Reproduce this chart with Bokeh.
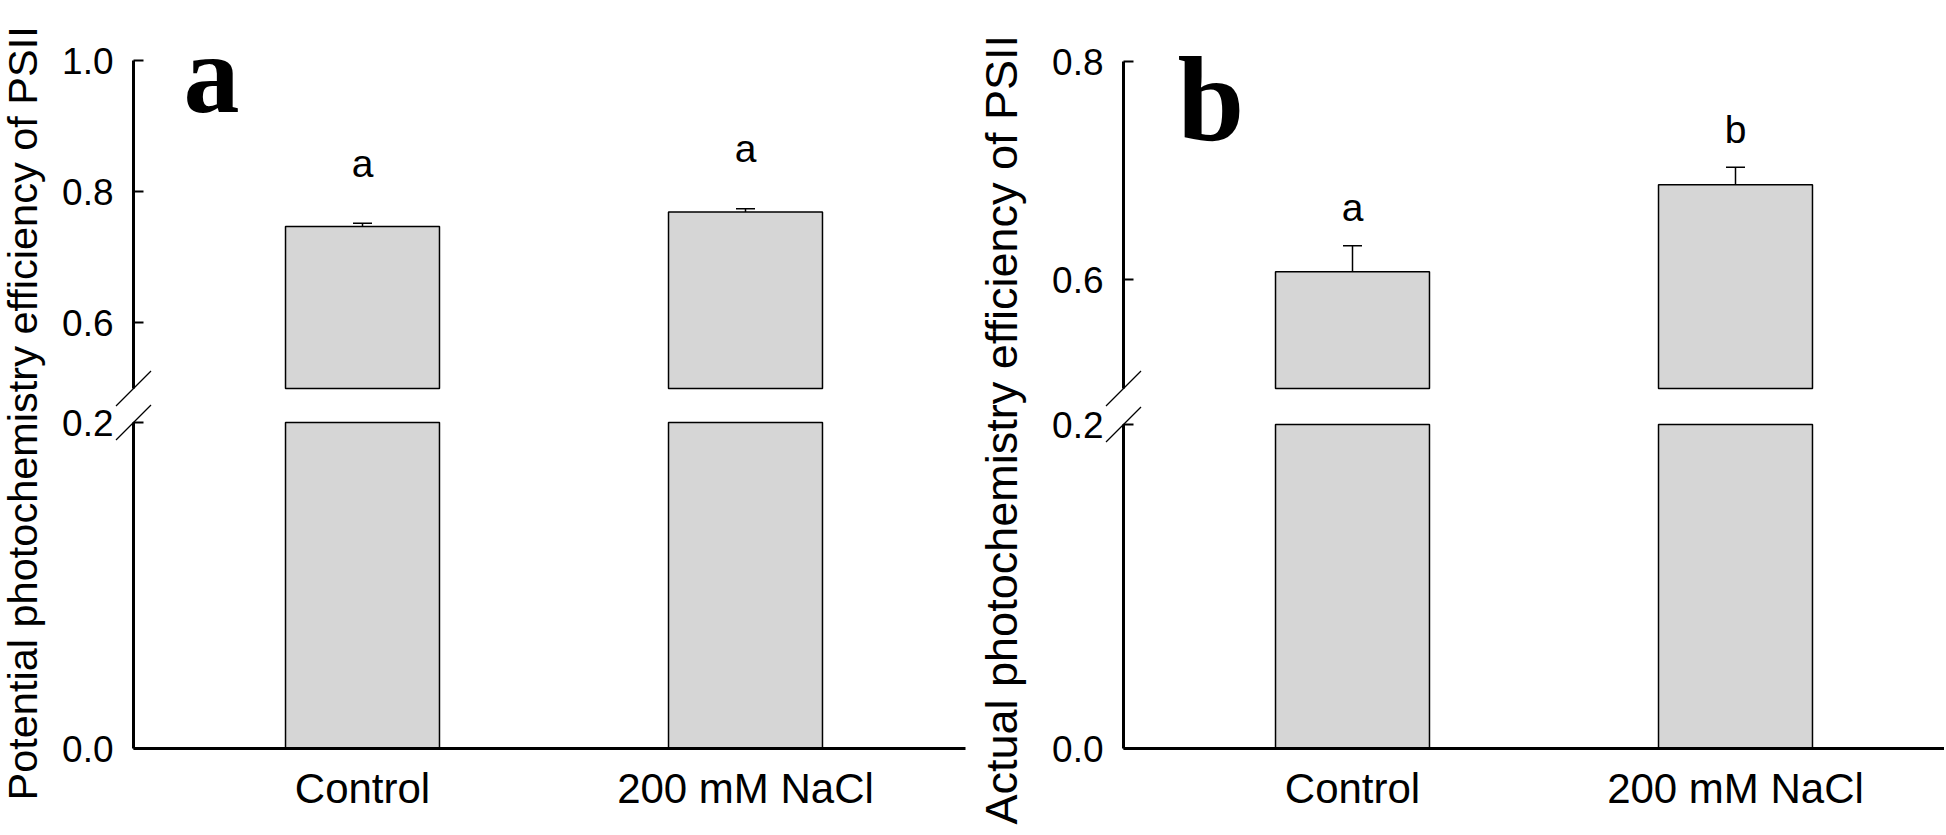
import numpy as np
from bokeh.plotting import figure
from bokeh.models import (ColumnDataSource, Range1d, FixedTicker, NumeralTickFormatter,
                          Whisker, TeeHead, LinearAxis, Grid)
from bokeh.layouts import row
from bokeh.core.properties import value
from bokeh.embed import file_html
from bokeh.resources import INLINE

# ---------------- data ----------------
categories = ["Control", "200 mM NaCl"]
potential_mean = [0.747, 0.769]
potential_se = [0.005, 0.005]
potential_letters = ["a", "a"]
actual_mean = [0.607, 0.687]
actual_se = [0.024, 0.016]
actual_letters = ["a", "b"]
potential_upper_ticks = [0.6, 0.8, 1.0]
actual_upper_ticks = [0.6, 0.8]
lower_ticks = [0.0, 0.2]
ylabel_a = "Potential photochemistry efficiency of PSII"
ylabel_b = "Actual photochemistry efficiency of PSII"

# ---------------- style / layout ----------------
SANS = "Liberation Sans"
SERIF = "Liberation Serif"
BAR_FILL = "#d6d6d6"
BREAK_LOW = 0.2
BREAK_HIGH = 0.5
BAR_W = 0.402
H = 833
TOP = 0
BOTTOM = TOP + H


def x_map(v0, p0, v1, p1):
    k = (v1 - v0) / (p1 - p0)
    return lambda p: v0 + (p - p0) * k


def y_map(v0, p0, v1, p1):
    k = (v1 - v0) / (p0 - p1)
    return lambda p: v0 + (p0 - p) * k


def style_yaxis(ax, ticks):
    ax.ticker = FixedTicker(ticks=ticks)
    ax.formatter = NumeralTickFormatter(format="0.0")
    ax.major_tick_in = 10
    ax.major_tick_out = 0
    ax.major_tick_line_width = 2
    ax.minor_tick_line_color = None
    ax.axis_line_width = 3
    ax.axis_line_color = "black"
    ax.major_tick_line_color = "black"
    ax.major_label_text_font = SANS
    ax.major_label_text_font_size = "37px"
    ax.major_label_text_color = "black"
    ax.major_label_standoff = 20


def panel(means, ses, letters, upper_top, upper_ticks, left, right, axis_px, bar_px,
          upper_px, lower_px, xaxis_end_px, ylabel, ylabel_base, ylabel_start, ylabel_size,
          letter_gap, panel_letter, pl_left, pl_base, pl_size):
    x = [1, 2]
    xm = x_map(1, bar_px[0], 2, bar_px[1])
    ym_u = y_map(BREAK_HIGH, upper_px[0], upper_top, upper_px[1])
    ym_l = y_map(0.0, lower_px[0], BREAK_LOW, lower_px[1])
    axis_x = xm(axis_px)

    p = figure(width=right - left, height=H, x_range=Range1d(xm(left), xm(right)),
               y_range=Range1d(ym_l(BOTTOM), ym_l(TOP)), output_backend="svg",
               toolbar_location=None, min_border=0, x_axis_location=None,
               y_axis_location=None, title=None)
    p.extra_y_ranges = {"upper": Range1d(ym_u(BOTTOM), ym_u(TOP))}
    p.outline_line_color = None
    p.background_fill_color = "white"
    p.border_fill_color = "white"
    p.renderers = [r for r in p.renderers if not isinstance(r, Grid)]
    p.center = [r for r in p.center if not isinstance(r, Grid)]

    # axes
    ax_u = LinearAxis(y_range_name="upper", fixed_location=axis_x,
                      bounds=(BREAK_HIGH, upper_top))
    style_yaxis(ax_u, upper_ticks)
    p.add_layout(ax_u, "left")
    ax_l = LinearAxis(fixed_location=axis_x, bounds=(0.0, BREAK_LOW))
    style_yaxis(ax_l, lower_ticks)
    p.add_layout(ax_l, "left")
    xa = LinearAxis(fixed_location=0.0, bounds=(axis_x, xm(xaxis_end_px)))
    xa.ticker = FixedTicker(ticks=x)
    xa.major_label_overrides = {1: categories[0], 2: categories[1]}
    xa.major_tick_line_color = None
    xa.minor_tick_line_color = None
    xa.major_tick_in = 0
    xa.major_tick_out = 0
    xa.axis_line_width = 3
    xa.axis_line_color = "black"
    xa.major_label_text_font = SANS
    xa.major_label_text_font_size = "42px"
    xa.major_label_text_color = "black"
    xa.major_label_standoff = 16
    p.add_layout(xa, "below")

    # bars (upper and lower segment)
    p.vbar(x=x, width=BAR_W, bottom=BREAK_HIGH, top=means, y_range_name="upper",
           fill_color=BAR_FILL, line_color="black", line_width=1.5)
    p.vbar(x=x, width=BAR_W, bottom=0, top=np.minimum(means, BREAK_LOW),
           fill_color=BAR_FILL, line_color="black", line_width=1.5)

    # error bars + letters
    tops = [m + s for m, s in zip(means, ses)]
    src = ColumnDataSource(dict(x=x, lower=means, upper=tops, letters=letters))
    p.add_layout(Whisker(base="x", lower="lower", upper="upper", source=src,
                         y_range_name="upper",
                         upper_head=TeeHead(size=19, line_width=1.5, line_color="black"),
                         lower_head=None, line_width=1.5, line_color="black"))
    p.text(x="x", y="upper", text="letters", source=src, y_range_name="upper",
           text_align="center", text_baseline="alphabetic", y_offset=-letter_gap,
           text_font=value(SANS), text_font_size="39px", text_color="black")

    # axis break marks
    s = 17.5
    p.segment(x0=[xm(axis_px - s)], y0=[ym_u(upper_px[0] + s)],
              x1=[xm(axis_px + s)], y1=[ym_u(upper_px[0] - s)],
              y_range_name="upper", line_width=1.3, line_color="black")
    p.segment(x0=[xm(axis_px - s)], y0=[ym_l(lower_px[1] + s)],
              x1=[xm(axis_px + s)], y1=[ym_l(lower_px[1] - s)],
              line_width=1.3, line_color="black")

    # panel letter
    p.text(x=[xm(pl_left)], y=[ym_l(pl_base)], text=[panel_letter],
           text_font=value(SERIF), text_font_style="bold", text_font_size=pl_size,
           text_align="left", text_baseline="alphabetic", text_color="black")

    # y axis title
    p.text(x=[xm(ylabel_base)], y=[ym_l(ylabel_start)], text=[ylabel], angle=np.pi / 2,
           text_font=value(SANS), text_font_size=ylabel_size, text_align="left",
           text_baseline="alphabetic", text_color="black")
    return p


pa = panel(potential_mean, potential_se, potential_letters, 1.0, potential_upper_ticks,
           0, 969, 133, (362, 745), (388, 60), (748, 422), 965,
           ylabel_a, 22, 800, "41.5px", 60, "a", 183, 73, "112px")
pb = panel(actual_mean, actual_se, actual_letters, 0.8, actual_upper_ticks,
           969, 1944, 1123, (1352, 1735), (388, 61), (748, 424), 1944,
           ylabel_b, 1001, 824, "45px", 38, "b", 1177, 99, "120px")

layout = row(pa, pb, spacing=0)

with open("out.html", "w") as f:
    f.write(file_html(layout, INLINE))
